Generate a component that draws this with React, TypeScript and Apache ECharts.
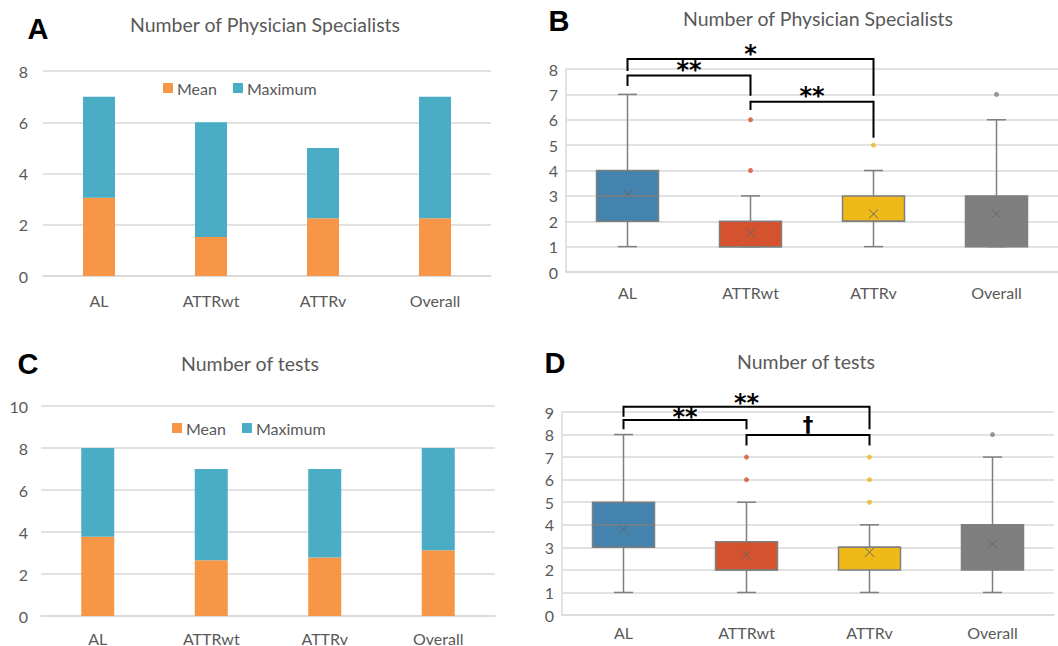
import React, { useEffect, useRef } from "react";
import * as echarts from "echarts";

const categories = ["AL", "ATTRwt", "ATTRv", "Overall"];

// Panel A: Number of Physician Specialists
const specMean = [3.05, 1.52, 2.25, 2.25];
const specMax = [7, 6, 5, 7];
// Panel C: Number of tests
const testMean = [3.77, 2.66, 2.78, 3.13];
const testMax = [8, 7, 7, 8];

// Panel B: box stats [min, q1, median, q3, max]
const specBox = [
  [1, 2, 3, 4, 7],
  [1, 1, 1, 2, 3],
  [1, 2, 2, 3, 4],
  [1, 1, 2, 3, 6],
];
const specBoxMean = [3.07, 1.55, 2.29, 2.29];
const specOutliers = [
  [1, 4],
  [1, 6],
  [2, 5],
  [3, 7],
];
// Panel D
const testBox = [
  [1, 3, 4, 5, 8],
  [1, 2, 2, 3.25, 5],
  [1, 2, 3, 3, 4],
  [1, 2, 3, 4, 7],
];
const testBoxMean = [3.8, 2.67, 2.78, 3.15];
const testOutliers = [
  [1, 6],
  [1, 7],
  [2, 5],
  [2, 6],
  [2, 7],
  [3, 8],
];

// significance brackets: [fromCat, toCat, barY, leftEndY, rightEndY, textY]
const specBrackets = [
  [0, 2, 8.39, 7.92, 6.95, 8.59],
  [0, 1, 7.74, 7.33, 6.95, 7.97],
  [1, 2, 6.71, 6.38, 5.29, 6.95],
];
const specBracketLabels = ["*", "**", "**"];
const testBrackets = [
  [0, 2, 9.23, 8.79, 8.24, 9.42],
  [0, 1, 8.64, 8.24, 8.24, 8.78],
  [1, 2, 7.98, 7.52, 7.52, 8.42],
];
const testBracketLabels = ["**", "**", "\u2020"];

const boxColors = ["#4383AD", "#D4532E", "#EFB918", "#7F7F7F"];
const meanColor = "#F79646";
const maxColor = "#4BACC6";
const textColor = "#595959";
const gridColor = "#D9D9D9";
const FONT = "Lato";

function boxRender(params: any, api: any) {
  const i = api.value(0);
  const mn = api.value(1);
  const q1 = api.value(2);
  const md = api.value(3);
  const q3 = api.value(4);
  const mx = api.value(5);
  const mean = api.value(6);
  const x = api.coord([i, md])[0];
  const y = (v: number) => api.coord([i, v])[1];
  const hw = 31;
  const cw = 9.5;
  const lc = "#7F7F7F";
  const ls = { stroke: lc, lineWidth: 1.5 };
  const my = y(mean);
  const ms = 4.5;
  return {
    type: "group",
    children: [
      { type: "line", shape: { x1: x, y1: y(q3), x2: x, y2: y(mx) }, style: ls },
      { type: "line", shape: { x1: x - cw, y1: y(mx), x2: x + cw, y2: y(mx) }, style: ls },
      { type: "line", shape: { x1: x, y1: y(q1), x2: x, y2: y(mn) }, style: ls },
      { type: "line", shape: { x1: x - cw, y1: y(mn), x2: x + cw, y2: y(mn) }, style: ls },
      {
        type: "rect",
        shape: { x: x - hw, y: y(q3), width: hw * 2, height: y(q1) - y(q3) },
        style: { fill: boxColors[i], stroke: lc, lineWidth: 1.5 },
      },
      { type: "line", shape: { x1: x - hw, y1: y(md), x2: x + hw, y2: y(md) }, style: ls },
      { type: "line", shape: { x1: x - ms, y1: my - ms, x2: x + ms, y2: my + ms }, style: { stroke: "#666", lineWidth: 1 } },
      { type: "line", shape: { x1: x - ms, y1: my + ms, x2: x + ms, y2: my - ms }, style: { stroke: "#666", lineWidth: 1 } },
    ],
  };
}

function bracketRender(labels: string[]) {
  return (params: any, api: any) => {
    const a = api.value(0);
    const b = api.value(1);
    const bar = api.value(2);
    const le = api.value(3);
    const re = api.value(4);
    const ty = api.value(5);
    const p1 = api.coord([a, le]);
    const p2 = api.coord([a, bar]);
    const p3 = api.coord([b, bar]);
    const p4 = api.coord([b, re]);
    const tx = (p1[0] + p4[0]) / 2;
    const tyPx = api.coord([a, ty])[1];
    const lab = labels[params.dataIndex];
    const isDagger = lab === "\u2020";
    return {
      type: "group",
      children: [
        {
          type: "polyline",
          shape: { points: [p1, p2, p3, p4] },
          style: { stroke: "#000", lineWidth: 2, fill: "none" },
        },
        {
          type: "text",
          x: tx,
          y: tyPx,
          style: {
            text: lab,
            fontSize: isDagger ? 21 : 24,
            fontWeight: "bold",
            fontFamily: "DejaVu Sans",
            fill: "#000",
            align: "center",
            verticalAlign: "middle",
          },
        },
      ],
    };
  };
}

export default function App() {
  const ref = useRef<HTMLDivElement>(null);
  useEffect(() => {
    if (!ref.current) return;
    const chart = echarts.init(ref.current, undefined, { renderer: "svg" });

    const axisLabelStyle = { color: textColor, fontSize: 16, fontFamily: FONT };
    const catAxis = (gridIndex: number, margin: number, showLine: boolean) => ({
      type: "category",
      gridIndex,
      data: categories,
      axisTick: { show: false },
      axisLine: { show: showLine, lineStyle: { color: gridColor, width: 1.5 } },
      axisLabel: { ...axisLabelStyle, margin, interval: 0 },
    });
    const valAxis = (gridIndex: number, max: number, interval: number, margin: number, showLine: boolean) => ({
      type: "value",
      gridIndex,
      min: 0,
      max,
      interval,
      axisLine: { show: showLine, lineStyle: { color: gridColor, width: 1.5 } },
      axisTick: { show: false },
      splitLine: { lineStyle: { color: gridColor, width: 1.5 } },
      axisLabel: { ...axisLabelStyle, margin },
    });

    const titleText = (text: string, x: number, y: number) => ({
      type: "text",
      x,
      y,
      style: {
        text,
        fontSize: 19.5,
        fontFamily: FONT,
        fill: textColor,
        align: "center",
        verticalAlign: "middle",
      },
    });
    const letter = (text: string, x: number, y: number) => ({
      type: "text",
      x,
      y,
      style: {
        text,
        fontSize: 29,
        fontWeight: "bold",
        fontFamily: "Liberation Sans",
        fill: "#000",
        align: "center",
        verticalAlign: "middle",
      },
    });

    const legendBase = {
      data: ["Mean", "Maximum"],
      itemWidth: 10,
      itemHeight: 10,
      itemGap: 16,
      icon: "rect",
      textStyle: { color: textColor, fontSize: 16, fontFamily: FONT, padding: [0, 0, 0, -1] },
      selectedMode: false,
    };

    chart.setOption({
      animation: false,
      backgroundColor: "#fff",
      graphic: [
        letter("A", 38, 29),
        titleText("Number of Physician Specialists", 265, 24),
        letter("B", 559, 21),
        titleText("Number of Physician Specialists", 818, 18),
        letter("C", 28, 364),
        titleText("Number of tests", 250, 363),
        letter("D", 555, 363),
        titleText("Number of tests", 806, 361),
      ],
      legend: [
        { ...legendBase, left: 158, top: 75 },
        { ...legendBase, left: 167, top: 415 },
      ],
      grid: [
        { left: 43, top: 71, width: 448, height: 205 },
        { left: 566, top: 69, width: 496, height: 203 },
        { left: 41, top: 406, width: 454, height: 210 },
        { left: 562, top: 412, width: 492, height: 203 },
      ],
      xAxis: [
        catAxis(0, 16, true),
        catAxis(1, 12, true),
        catAxis(2, 14, true),
        catAxis(3, 9, true),
      ],
      yAxis: [
        valAxis(0, 8, 2, 15, false),
        valAxis(1, 8, 1, 8, true),
        valAxis(2, 10, 2, 13, false),
        valAxis(3, 9, 1, 8, true),
      ],
      series: [
        {
          name: "Mean",
          type: "bar",
          xAxisIndex: 0,
          yAxisIndex: 0,
          stack: "a",
          barWidth: 32,
          itemStyle: { color: meanColor },
          data: specMean,
        },
        {
          name: "Maximum",
          type: "bar",
          xAxisIndex: 0,
          yAxisIndex: 0,
          stack: "a",
          barWidth: 32,
          itemStyle: { color: maxColor },
          data: specMax.map((m, i) => m - specMean[i]),
        },
        {
          name: "Mean",
          type: "bar",
          xAxisIndex: 2,
          yAxisIndex: 2,
          stack: "c",
          barWidth: 33,
          itemStyle: { color: meanColor },
          data: testMean,
        },
        {
          name: "Maximum",
          type: "bar",
          xAxisIndex: 2,
          yAxisIndex: 2,
          stack: "c",
          barWidth: 33,
          itemStyle: { color: maxColor },
          data: testMax.map((m, i) => m - testMean[i]),
        },
        {
          type: "custom",
          xAxisIndex: 1,
          yAxisIndex: 1,
          renderItem: boxRender,
          encode: { x: 0, y: [1, 2, 3, 4, 5] },
          data: specBox.map((b, i) => [i, ...b, specBoxMean[i]]),
        },
        {
          type: "scatter",
          xAxisIndex: 1,
          yAxisIndex: 1,
          symbolSize: 5,
          itemStyle: { color: (p: any) => boxColors[p.value[0]] },
          data: specOutliers,
        },
        {
          type: "custom",
          xAxisIndex: 1,
          yAxisIndex: 1,
          clip: false,
          z: 10,
          renderItem: bracketRender(specBracketLabels),
          encode: { x: [0, 1], y: [2, 3, 4, 5] },
          data: specBrackets,
        },
        {
          type: "custom",
          xAxisIndex: 3,
          yAxisIndex: 3,
          renderItem: boxRender,
          encode: { x: 0, y: [1, 2, 3, 4, 5] },
          data: testBox.map((b, i) => [i, ...b, testBoxMean[i]]),
        },
        {
          type: "scatter",
          xAxisIndex: 3,
          yAxisIndex: 3,
          symbolSize: 5,
          itemStyle: { color: (p: any) => boxColors[p.value[0]] },
          data: testOutliers,
        },
        {
          type: "custom",
          xAxisIndex: 3,
          yAxisIndex: 3,
          clip: false,
          z: 10,
          renderItem: bracketRender(testBracketLabels),
          encode: { x: [0, 1], y: [2, 3, 4, 5] },
          data: testBrackets,
        },
      ],
    });
    return () => chart.dispose();
  }, []);
  return (
    <div
      ref={ref}
      style={{ position: "absolute", left: 0, top: 0, width: 1058, height: 646, background: "#fff" }}
    />
  );
}
